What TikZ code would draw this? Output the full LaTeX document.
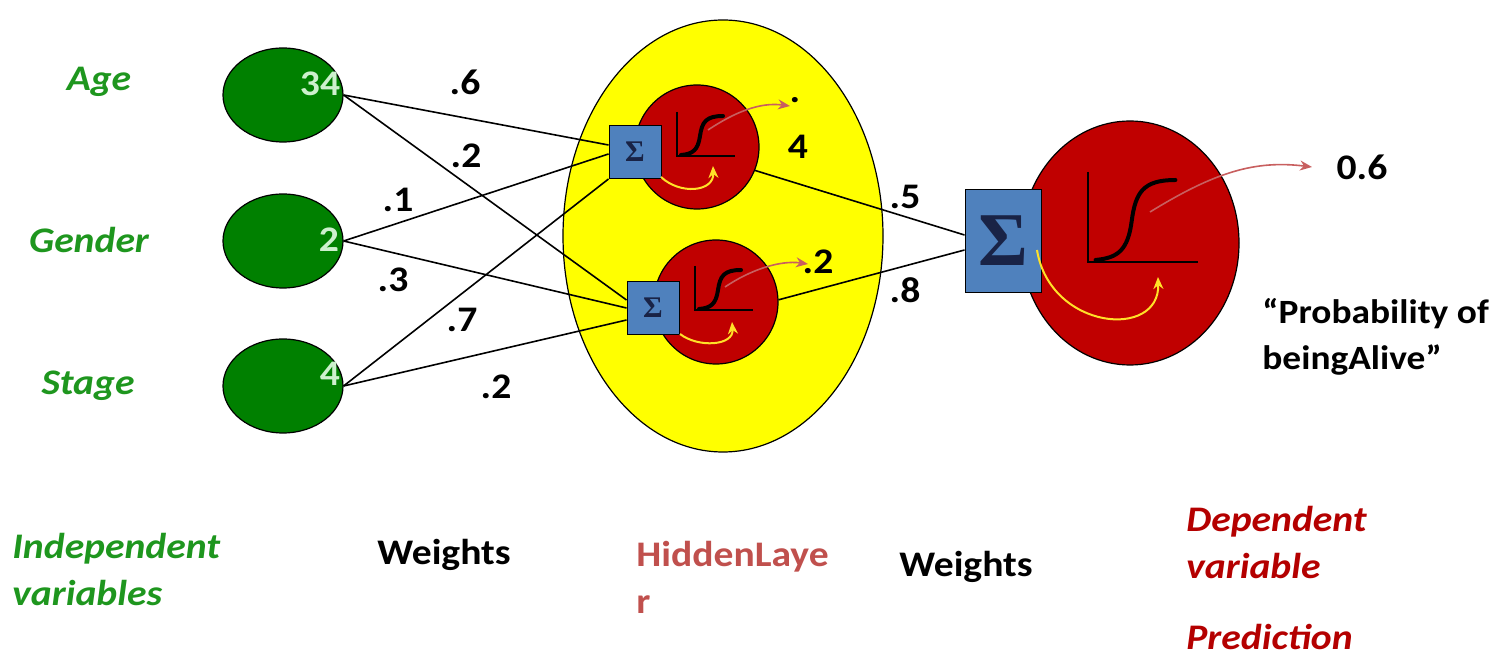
\documentclass[tikz,border=0pt]{standalone}
\usepackage{fontspec}
\setmainfont{Carlito}[FakeStretch=1.1]
\newfontfamily\sigfont{Liberation Serif}
\usetikzlibrary{arrows.meta,calc,shapes.geometric}
\definecolor{ingreen}{RGB}{0,128,0}
\definecolor{lblgreen}{RGB}{30,150,30}
\definecolor{numgreen}{RGB}{205,240,205}
\definecolor{nred}{RGB}{192,0,0}
\definecolor{hyellow}{RGB}{255,255,0}
\definecolor{sbox}{RGB}{79,129,189}
\definecolor{sigcol}{RGB}{25,35,70}
\definecolor{rosy}{RGB}{192,80,77}
\definecolor{arrred}{RGB}{200,95,95}
\definecolor{ayellow}{RGB}{255,225,40}
\definecolor{depred}{RGB}{180,0,0}
\tikzset{
  txt/.style={font=\fontsize{18}{21}\selectfont\bfseries, inner sep=0pt},
  invar/.style={txt, text=lblgreen, font=\fontsize{18}{21}\selectfont\bfseries\itshape},
  innode/.style={draw=black, line width=0.6pt, fill=ingreen, ellipse, minimum width=60pt, minimum height=47pt, inner sep=0pt},
  innum/.style={txt, text=numgreen},
  wlab/.style={txt, text=black},
  hnode/.style={circle, draw=black, line width=0.6pt, fill=nred, minimum size=62pt, inner sep=0pt},
  sumbox/.style={draw=black, line width=0.5pt, fill=sbox, minimum width=26pt, minimum height=26.5pt, inner sep=0pt, text=sigcol},
  conn/.style={draw=black, line width=0.8pt},
  outarr/.style={draw=arrred, line width=0.8pt, -{Stealth[length=6pt,width=5pt]}},
  yarr/.style={draw=ayellow, line width=1pt, -{Stealth[length=6pt,width=5pt]}},
  sigm/.pic={
    \draw[black, line width=1pt] (0,-44) -- (0,0) -- (58,0);
    \draw[black, line width=2pt, line cap=round] (4,-1) .. controls (16,-2) and (21,-6) .. (23,-20) .. controls (25,-34) and (29,-40) .. (46,-40);
  }
}
\begin{document}
\begin{tikzpicture}[x=0.5pt, y=-0.5pt]
\useasboundingbox (0,0) rectangle (1506,657);

% hidden layer background
\node[ellipse, draw=black, line width=0.6pt, fill=hyellow, minimum width=160pt, minimum height=216pt, inner sep=0pt] (hid) at (723,236) {};

% input nodes
\node[innode] (age) at (283,95) {};
\node[innode] (gen) at (283,241) {};
\node[innode] (stg) at (283,386) {};
\node[innum] (n34) at (320,84) {34};
\node[innum] (n2) at (329,240) {2};
\node[innum] (n4) at (330,374) {4};

\node[invar] (lage) at (99,82) {Age};
\node[invar] (lgen) at (89,240) {Gender};
\node[invar] (lstg) at (88,386) {Stage};

% hidden neurons
\node[hnode] (h1) at (697,147) {};
\node[hnode] (h2) at (716,302) {};
\pic at (677,156) {sigm};
\pic at (695,310) {sigm};
\node[sumbox, font=\fontsize{15}{15}\selectfont\sigfont\bfseries] (b1) at (635,152) {Σ};
\node[sumbox, font=\fontsize{15}{15}\selectfont\sigfont\bfseries] (b2) at (653,308) {Σ};

% output neuron
\node[ellipse, draw=black, line width=0.6pt, fill=nred, minimum width=109pt, minimum height=122pt, inner sep=0pt] (out) at (1130,243) {};
\pic[xscale=1.9, yscale=2.05] at (1088,262) {sigm};
\node[sumbox, minimum width=38pt, minimum height=51.5pt, font=\fontsize{38}{38}\selectfont\sigfont\bfseries] (bo) at (1003,241) {Σ};

% connections input -> hidden
\draw[conn] (age.east) -- ([yshift=3.5pt]b1.west);
\draw[conn] (age.east) -- ([yshift=4pt]b2.west);
\draw[conn] (gen.east) -- ([yshift=-1pt]b1.west);
\draw[conn] (gen.east) -- ([yshift=0pt]b2.west);
\draw[conn] (stg.east) -- (b1.south west);
\draw[conn] (stg.east) -- ([yshift=-6pt]b2.west);

% hidden -> output
\draw[conn] (h1.-22) -- ([yshift=3pt]bo.west);
\draw[conn] (h2.2) -- ([yshift=-4.5pt]bo.west);

% activation arrows
\coordinate (t1) at (790,106);
\coordinate (t2) at (808,264);
\coordinate (t3) at (1312,167);
\draw[outarr] (708,130) .. controls (735,112) and (760,102) .. (t1);
\draw[outarr] (725,287) .. controls (750,270) and (780,260) .. (t2);
\draw[outarr] (1150,212) .. controls (1215,172) and (1255,160) .. (t3);

\draw[yarr] (661,177) .. controls (680,195) and (714,192) .. (713,166);
\draw[yarr] (680,334) .. controls (698,348) and (734,346) .. (732,322);
\draw[yarr] (1037,250) .. controls (1050,330) and (1160,340) .. (1158,277);

% weight labels
\node[wlab] (w1) at (465,82) {.6};
\node[wlab] (w2) at (466,156) {.2};
\node[wlab] (w3) at (398,200) {.1};
\node[wlab] (w4) at (393,280) {.3};
\node[wlab] (w5) at (462,320) {.7};
\node[wlab] (w6) at (496,387) {.2};
\node[wlab] (w7) at (905,197) {.5};
\node[wlab] (w8) at (905,290) {.8};

% hidden outputs
\node[wlab] (o1a) at (795,100) {.};
\node[wlab] (o1b) at (798,147) {4};
\node[wlab] (o2) at (818,262) {.2};
\node[wlab] (o3) at (1362,167) {0.6};
\node[wlab, anchor=north west, align=left, font=\fontsize{17}{23}\selectfont\bfseries] (prob) at (1262,298) {“Probability of\\beingAlive”};

% bottom labels
\node[invar, anchor=north west, align=left, font=\fontsize{18}{23.5}\selectfont\bfseries\itshape] (indep) at (12,533) {Independent\\variables};
\node[wlab] (wts1) at (444,555) {Weights};
\node[txt, text=rosy, anchor=north west, align=left, font=\fontsize{18}{23.5}\selectfont\bfseries] (hl) at (636,541) {HiddenLaye\\r};
\node[wlab] (wts2) at (966,567) {Weights};
\node[txt, text=depred, anchor=north west, align=left, font=\fontsize{18}{23.5}\selectfont\bfseries\itshape] (dep) at (1186,506) {Dependent\\variable};
\node[txt, text=depred, font=\fontsize{18}{21}\selectfont\bfseries\itshape, anchor=base west] (pred) at (1186,650) {Prediction};
\end{tikzpicture}
\end{document}
